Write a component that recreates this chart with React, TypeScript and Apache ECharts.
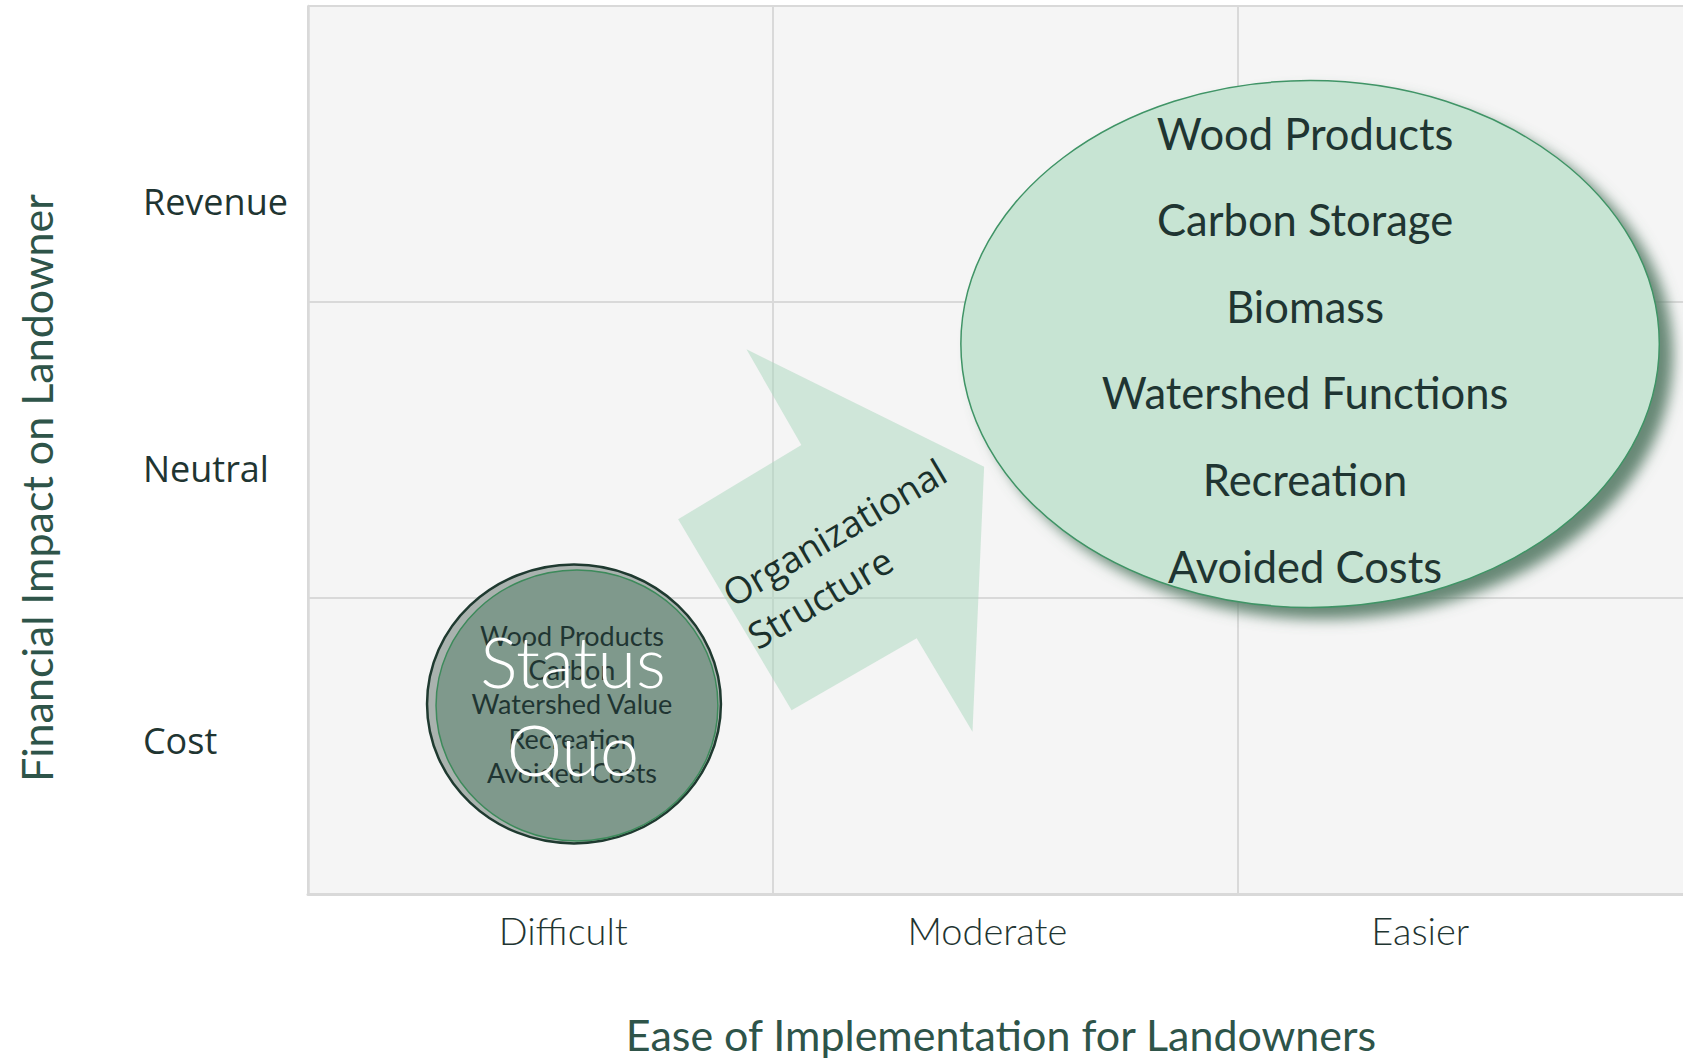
import React, { useEffect, useRef } from "react";
import * as echarts from "echarts";

// ---- data (axis units: x 0..3 = Difficult..Easier columns, y 0..3 = Cost..Revenue rows) ----
const xCategories = ["Difficult", "Moderate", "Easier"];
const xCategoryPos = [0.549, 1.461, 2.392];
const xLabelLevel = -0.12;

const yCategories = ["Cost", "Neutral", "Revenue"];
const yCategoryPos = [0.52, 1.436, 2.338];
const yLabelLevel = -0.355;

const xTitle = "Ease of Implementation for Landowners";
const yTitle = "Financial Impact on Landowner";

const statusQuoTitle = "Status\nQuo";
const statusQuoItems = ["Wood Products", "Carbon", "Watershed Value", "Recreation", "Avoided Costs"];
const statusQuoBubble = [0.572, 0.642, 0.316, 0.471]; // cx, cy, rx, ry

const futureItems = [
  "Wood Products",
  "Carbon Storage",
  "Biomass",
  "Watershed Functions",
  "Recreation",
  "Avoided Costs",
];
const futureBubble = [2.155, 1.858, 0.751, 0.89]; // cx, cy, rx, ry

const arrowPoints = [
  [0.943, 1.84],
  [1.454, 1.443],
  [1.429, 0.548],
  [1.309, 0.864],
  [1.04, 0.621],
  [0.796, 1.266],
  [1.061, 1.517],
];
const arrowLabel = "Organizational\nStructure";
const arrowLabelAnchor = [0.925, 0.936];

const TEXT_DARK = "#1f3532";
const TITLE_COLOR = "#2e5449";

export default function App() {
  const ref = useRef<HTMLDivElement>(null);

  useEffect(() => {
    document.body.style.margin = "0";
    document.body.style.overflow = "hidden";
    document.documentElement.style.overflow = "hidden";
    if (!ref.current) return;
    const chart = echarts.init(ref.current, undefined, { renderer: "svg" });

    const center = (extra: any) => ({
      align: "center",
      verticalAlign: "middle",
      textAlign: "center",
      textVerticalAlign: "middle",
      ...extra,
    });

    const option: any = {
      animation: false,
      backgroundColor: "#ffffff",
      grid: {
        left: 308,
        top: 6,
        right: 0,
        bottom: 164,
        show: true,
        backgroundColor: "#f5f5f5",
        borderWidth: 0,
      },
      xAxis: {
        type: "value",
        min: 0,
        max: 3,
        interval: 1,
        axisLabel: { show: false },
        axisTick: { show: false },
        axisLine: { show: true, lineStyle: { color: "#d9d9d9", width: 3 } },
        splitLine: { show: true, lineStyle: { color: "#d9d9d9", width: 2 } },
      },
      yAxis: {
        type: "value",
        min: 0,
        max: 3,
        interval: 1,
        axisLabel: { show: false },
        axisTick: { show: false },
        axisLine: { show: true, lineStyle: { color: "#d9d9d9", width: 2.5 } },
        splitLine: { show: true, lineStyle: { color: "#d9d9d9", width: 2 } },
      },
      graphic: [
        {
          type: "text",
          x: 1001,
          y: 1034,
          style: center({
            text: xTitle,
            fill: TITLE_COLOR,
            fontFamily: "Lato",
            fontSize: 43,
          }),
        },
        {
          type: "text",
          x: 36,
          y: 488,
          rotation: Math.PI / 2,
          style: center({
            text: yTitle,
            fill: TITLE_COLOR,
            fontFamily: "Lato",
            fontSize: 43,
          }),
        },
      ],
      series: [
        {
          type: "custom",
          name: "x labels",
          coordinateSystem: "cartesian2d",
          clip: false,
          silent: true,
          data: xCategories.map((n, i) => ({ name: n, value: [xCategoryPos[i], xLabelLevel] })),
          renderItem: (params: any, api: any) => {
            const p = api.coord([api.value(0), api.value(1)]);
            return {
              type: "text",
              x: p[0],
              y: p[1],
              style: center({
                text: xCategories[params.dataIndex],
                fill: TEXT_DARK,
                fontFamily: "Lato",
                fontWeight: 300,
                fontSize: 38,
              }),
            };
          },
        },
        {
          type: "custom",
          name: "y labels",
          coordinateSystem: "cartesian2d",
          clip: false,
          silent: true,
          data: yCategories.map((n, i) => ({ name: n, value: [yLabelLevel, yCategoryPos[i]] })),
          renderItem: (params: any, api: any) => {
            const p = api.coord([api.value(0), api.value(1)]);
            return {
              type: "text",
              x: p[0],
              y: p[1],
              style: {
                text: yCategories[params.dataIndex],
                fill: TEXT_DARK,
                fontFamily: "Open Sans",
                fontSize: 36,
                align: "left",
                verticalAlign: "middle",
                textAlign: "left",
                textVerticalAlign: "middle",
              },
            };
          },
        },
        {
          type: "custom",
          name: "Organizational Structure",
          coordinateSystem: "cartesian2d",
          clip: false,
          silent: true,
          data: [{ value: arrowLabelAnchor }],
          renderItem: (params: any, api: any) => {
            const pts = arrowPoints.map((pt) => api.coord(pt));
            const a = api.coord(arrowLabelAnchor);
            return {
              type: "group",
              children: [
                {
                  type: "polygon",
                  shape: { points: pts },
                  style: { fill: "rgba(170,215,190,0.5)", stroke: "none" },
                },
                {
                  type: "text",
                  x: a[0],
                  y: a[1],
                  rotation: (30.6 * Math.PI) / 180,
                  style: {
                    text: arrowLabel,
                    fill: "#1a302b",
                    fontFamily: "Open Sans",
                    fontSize: 37,
                    lineHeight: 49,
                    align: "left",
                    verticalAlign: "middle",
                    textAlign: "left",
                    textVerticalAlign: "middle",
                  },
                },
              ],
            };
          },
        },
        {
          type: "custom",
          name: "Status Quo",
          coordinateSystem: "cartesian2d",
          clip: false,
          silent: true,
          data: [{ value: [statusQuoBubble[0], statusQuoBubble[1]] }],
          renderItem: (params: any, api: any) => {
            const c = api.coord([statusQuoBubble[0], statusQuoBubble[1]]);
            const s = api.size([statusQuoBubble[2], statusQuoBubble[3]]);
            const children: any[] = [
              {
                type: "ellipse",
                shape: { cx: c[0], cy: c[1], rx: s[0], ry: s[1] },
                style: { fill: "#a9b2ae", stroke: "#1f3a30", lineWidth: 2.5 },
              },
              {
                type: "ellipse",
                shape: { cx: c[0] + 3, cy: c[1] + 1.5, rx: s[0] - 6, ry: s[1] - 4 },
                style: { fill: "#7f998c", stroke: "#3d8a5b", lineWidth: 1.5 },
              },
            ];
            const n = statusQuoItems.length;
            statusQuoItems.forEach((t, i) => {
              children.push({
                type: "text",
                x: c[0] - 2,
                y: c[1] + (i - (n - 1) / 2) * 34.3,
                style: center({
                  text: t,
                  fill: TEXT_DARK,
                  fontFamily: "Lato",
                  fontSize: 27,
                }),
              });
            });
            children.push({
              type: "text",
              x: c[0] - 1,
              y: c[1] + 1,
              style: center({
                text: statusQuoTitle,
                fill: "#ffffff",
                fontFamily: "Lato",
                fontWeight: 300,
                fontSize: 70,
                lineHeight: 88,
              }),
            });
            return { type: "group", children };
          },
        },
        {
          type: "custom",
          name: "Future",
          coordinateSystem: "cartesian2d",
          clip: false,
          silent: true,
          data: [{ value: [futureBubble[0], futureBubble[1]] }],
          renderItem: (params: any, api: any) => {
            const c = api.coord([futureBubble[0], futureBubble[1]]);
            const s = api.size([futureBubble[2], futureBubble[3]]);
            const children: any[] = [
              {
                type: "ellipse",
                shape: { cx: c[0], cy: c[1], rx: s[0], ry: s[1] },
                style: {
                  fill: "#c7e4d3",
                  stroke: "#3f9466",
                  lineWidth: 1.5,
                  shadowBlur: 14,
                  shadowOffsetX: 13,
                  shadowOffsetY: 11,
                  shadowColor: "rgba(95,130,110,0.95)",
                },
              },
            ];
            const n = futureItems.length;
            futureItems.forEach((t, i) => {
              children.push({
                type: "text",
                x: c[0] - 5,
                y: c[1] + 5 + (i - (n - 1) / 2) * 86.6,
                style: center({
                  text: t,
                  fill: TEXT_DARK,
                  fontFamily: "Lato",
                  fontSize: 43.5,
                }),
              });
            });
            return { type: "group", children };
          },
        },
      ],
    };

    chart.setOption(option);
    return () => {
      chart.dispose();
    };
  }, []);

  return <div ref={ref} style={{ width: 1703, height: 1058 }} />;
}
